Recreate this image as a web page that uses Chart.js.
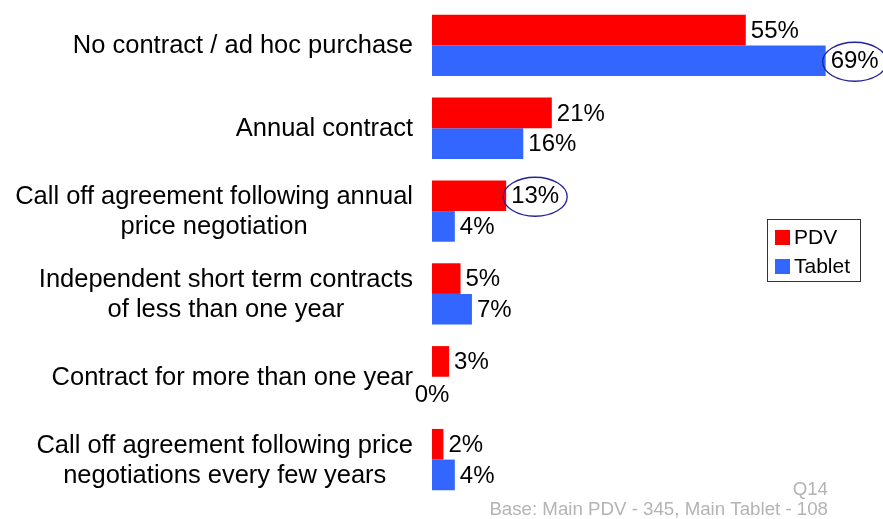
<!DOCTYPE html>
<html>
<head>
<meta charset="utf-8">
<script src="https://cdn.jsdelivr.net/npm/chart.js@4"></script>
<style>
  html, body { margin: 0; padding: 0; background: #fff; }
  #wrap { position: relative; width: 883px; height: 519px; }
</style>
</head>
<body>
<div id="wrap"><canvas id="chart"></canvas></div>
<script>
const categories = [
  ['No contract / ad hoc purchase'],
  ['Annual contract'],
  ['Call off agreement following annual', 'price negotiation'],
  ['Independent short term contracts', 'of less than one year'],
  ['Contract for more than one year'],
  ['Call off agreement following price', 'negotiations every few years'],
];
const pdvValues = [55, 21, 13, 5, 3, 2];
const tabletValues = [69, 16, 4, 7, 0, 4];
const seriesNames = ['PDV', 'Tablet'];
const seriesColors = ['#ff0000', '#3366ff'];
// [datasetIndex, categoryIndex] of the values ringed on the chart
const ringed = [[1, 0], [0, 2]];
const footQuestion = 'Q14';
const footBase = 'Base: Main PDV - 345, Main Tablet - 108';

const FONT = "'Liberation Sans', Arial, sans-serif";

// category text: each block right-aligned, its lines centred on each other
const categoryLabels = {
  id: 'categoryLabels',
  afterDraw(chart) {
    const { ctx, chartArea } = chart;
    const yScale = chart.scales.y;
    const right = chartArea.left - 19;
    const lineHeight = 30;
    ctx.save();
    ctx.font = `25.5px ${FONT}`;
    ctx.fillStyle = '#000';
    ctx.textAlign = 'center';
    ctx.textBaseline = 'middle';
    categories.forEach((lines, i) => {
      const y = yScale.getPixelForTick(i);
      const widest = Math.max(...lines.map((l) => ctx.measureText(l).width));
      const cx = right - widest / 2;
      const top = y - ((lines.length - 1) * lineHeight) / 2;
      lines.forEach((l, j) => ctx.fillText(l, cx, top + j * lineHeight + 1));
    });
    ctx.restore();
  },
};

const valueLabels = {
  id: 'valueLabels',
  afterDatasetsDraw(chart) {
    const { ctx } = chart;
    ctx.save();
    ctx.font = `24px ${FONT}`;
    ctx.fillStyle = '#000';
    ctx.textBaseline = 'middle';
    chart.data.datasets.forEach((ds, di) => {
      chart.getDatasetMeta(di).data.forEach((bar, i) => {
        const v = ds.data[i];
        const text = v + '%';
        if (v === 0) {
          ctx.textAlign = 'center';
          ctx.fillText(text, bar.x, bar.y + 3);
        } else {
          ctx.textAlign = 'left';
          ctx.fillText(text, bar.x + 5, bar.y + 1);
        }
      });
    });

    // navy rings round the highlighted values
    ctx.strokeStyle = '#22229a';
    ctx.lineWidth = 1.3;
    ringed.forEach(([di, i]) => {
      const bar = chart.getDatasetMeta(di).data[i];
      const w = ctx.measureText(chart.data.datasets[di].data[i] + '%').width;
      ctx.beginPath();
      ctx.ellipse(bar.x + 5 + w / 2, bar.y + 1, w / 2 + 8, 19.5, 0, 0, Math.PI * 2);
      ctx.stroke();
    });
    ctx.restore();
  },
};

const boxedLegend = {
  id: 'boxedLegend',
  afterDraw(chart) {
    const { ctx } = chart;
    const x = 767, y = 219, w = 93, h = 62;
    ctx.save();
    ctx.fillStyle = '#fff';
    ctx.fillRect(x, y, w, h);
    ctx.strokeStyle = '#333';
    ctx.lineWidth = 1;
    ctx.strokeRect(x + 0.5, y + 0.5, w, h);
    ctx.font = `21px ${FONT}`;
    ctx.textAlign = 'left';
    ctx.textBaseline = 'middle';
    chart.data.datasets.forEach((ds, i) => {
      const cy = y + 18 + i * 29;
      ctx.fillStyle = ds.backgroundColor;
      ctx.fillRect(x + 8, cy - 7, 15, 15);
      ctx.fillStyle = '#000';
      ctx.fillText(ds.label, x + 27, cy + 1);
    });
    ctx.restore();
  },
};

const footnotes = {
  id: 'footnotes',
  afterDraw(chart) {
    const { ctx } = chart;
    ctx.save();
    ctx.font = `18.7px ${FONT}`;
    ctx.fillStyle = '#b4b4b4';
    ctx.textAlign = 'right';
    ctx.textBaseline = 'middle';
    ctx.fillText(footQuestion, 828, 490);
    ctx.fillText(footBase, 828, 510);
    ctx.restore();
  },
};

new Chart(document.getElementById('chart'), {
  type: 'bar',
  data: {
    labels: categories,
    datasets: [
      { label: seriesNames[0], data: pdvValues, backgroundColor: seriesColors[0] },
      { label: seriesNames[1], data: tabletValues, backgroundColor: seriesColors[1] },
    ],
  },
  options: {
    indexAxis: 'y',
    responsive: true,
    maintainAspectRatio: false,
    animation: false,
    layout: { padding: { top: 4, right: 6, bottom: 18, left: 0 } },
    datasets: { bar: { barPercentage: 1, categoryPercentage: 0.74 } },
    plugins: { legend: { display: false }, tooltip: { enabled: false } },
    scales: {
      x: { display: false, min: 0, max: 78 },
      y: {
        ticks: { display: false },
        grid: { display: false },
        border: { display: false },
        afterFit(scale) { scale.width = 432; },
      },
    },
  },
  plugins: [categoryLabels, valueLabels, boxedLegend, footnotes],
});
</script>
</body>
</html>
